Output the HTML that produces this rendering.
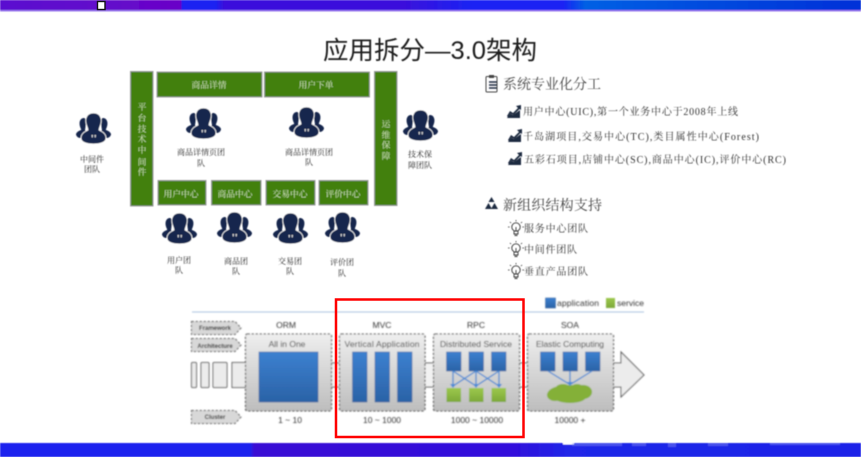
<!DOCTYPE html>
<html><head><meta charset="utf-8">
<style>
html,body{margin:0;padding:0;background:#fff;width:861px;height:457px;overflow:hidden}
svg{display:block}
.sans{font-family:"Liberation Sans","Noto Sans CJK SC",sans-serif}
.serif{font-family:"Liberation Serif","Noto Serif CJK SC",serif}
</style></head><body>
<svg width="861" height="457" viewBox="0 0 861 457" xmlns="http://www.w3.org/2000/svg">
<defs>
<linearGradient id="top" x1="0" x2="1" y1="0" y2="0">
<stop offset="0" stop-color="#5a10d0"/><stop offset=".21" stop-color="#6a04c8"/><stop offset=".2115" stop-color="#1a24f2"/><stop offset=".25" stop-color="#1a24f2"/><stop offset=".26" stop-color="#3a10dc"/><stop offset=".47" stop-color="#3a10dc"/><stop offset=".55" stop-color="#1a24f4"/><stop offset=".655" stop-color="#1a24f4"/><stop offset=".68" stop-color="#0060e4"/><stop offset="1" stop-color="#0030d8"/>
</linearGradient>
<linearGradient id="bot" x1="0" x2="1" y1="0" y2="0">
<stop offset="0" stop-color="#1a24ee"/><stop offset=".29" stop-color="#1a24ee"/><stop offset=".295" stop-color="#3a10d4"/><stop offset=".6" stop-color="#3010dc"/><stop offset=".66" stop-color="#2026e8"/><stop offset="1" stop-color="#1c24e8"/>
</linearGradient>
<linearGradient id="gray" x1="0" x2="0" y1="0" y2="1"><stop offset="0" stop-color="#eeeeee"/><stop offset="1" stop-color="#bdbdbd"/></linearGradient>
<linearGradient id="blue" x1="0" x2="0" y1="0" y2="1"><stop offset="0" stop-color="#3c80d0"/><stop offset="1" stop-color="#2a62a6"/></linearGradient>
<linearGradient id="green" x1="0" x2="0" y1="0" y2="1"><stop offset="0" stop-color="#9cc84c"/><stop offset="1" stop-color="#7ca838"/></linearGradient>
<filter id="b" x="-5%" y="-5%" width="110%" height="110%"><feGaussianBlur stdDeviation="0.55"/></filter>
<filter id="b2" x="-5%" y="-5%" width="110%" height="110%"><feGaussianBlur stdDeviation="0.7"/></filter>
<g id="p">
<path d="M5 16 C2 10 4 5 8 5 C10 5 10 9 10 11 L9 17 L11 19 L6 21 Z M30 16 C33 10 31 5 27 5 C25 5 25 9 25 11 L26 17 L24 19 L29 21 Z" fill="#16284e"/>
<path d="M0 21 C1 18 5 17 8 16 L10 20 L7 25 L4 25 C2 25 0 23 0 21 Z M35 21 C34 18 30 17 27 16 L25 20 L28 25 L31 25 C33 25 35 23 35 21 Z" fill="#16284e"/>
<path d="M17.5 0 C11 0 9 5 10 10 C10.5 13 12 15 12 17 C8 19 5 21 5 25 C5 29 10 31 17.5 31 C25 31 30 29 30 25 C30 21 27 19 23 17 C23 15 24.5 13 25 10 C26 5 24 0 17.5 0 Z" fill="#16284e" stroke="#fff" stroke-width="0.8"/>
<path d="M15.500 22 h1.500 l-.3 2.500 h-.9 Z M18.500 22 h1.500 l-.3 2.500 h-.9 Z" fill="#d8d8d8"/>
</g>
<g id="chart"><path d="M0 11 L3 6 L6 8 L11 3 L9 1 L14 0 L14 5 L12.5 4 L6.5 10 L3 8.5 L1 12 Z" fill="#1e2a40"/><path d="M0 13 L3 8.500 L6 10 L13 5 L13 13 Z" fill="#1e2a40"/></g>
<g id="bulb" fill="none" stroke="#333" stroke-width="0.9"><circle cx="8" cy="7" r="4.2"/><path d="M6 11 L6 14 L10 14 L10 11 M6.5 15.5 L9.5 15.5 M8 7 L8 11"/><path d="M8 0 V1.4 M2 2 L3 3 M14 2 L13 3 M0 7 H1.6 M14.4 7 H16" stroke-width="0.8"/></g>
</defs>

<rect width="861" height="457" fill="#fff"/>
<g filter="url(#b)">
<rect x="0" y="0" width="861" height="10" fill="url(#top)"/>
<rect x="0" y="10" width="861" height="1.5" fill="#9a78ee"/>
<rect x="0" y="443" width="861" height="14" fill="url(#bot)"/>
<rect x="563" y="441.500" width="11" height="3" fill="#fff"/>
<g fill="#8e9af4" opacity=".38">
<rect x="572" y="443" width="50" height="3"/><rect x="632" y="443" width="14" height="3"/><rect x="668" y="443" width="8" height="4"/><rect x="708" y="443" width="20" height="3"/><rect x="770" y="443" width="70" height="2"/>
</g>
</g>
<rect x="97.500" y="1.500" width="7.500" height="8" fill="#fff" stroke="#111" stroke-width="1.400"/>

<g filter="url(#b)">
<text x="430" y="59" text-anchor="middle" class="sans" font-size="25" fill="#1a1a1a" textLength="214" lengthAdjust="spacingAndGlyphs">应用拆分—3.0架构</text>

<g fill="#43800e" stroke="#999" stroke-width="1">
<rect x="130.500" y="71.500" width="22.500" height="134.500"/>
<rect x="157" y="72" width="105" height="25"/>
<rect x="264.500" y="72" width="105" height="25"/>
<rect x="374.500" y="71.500" width="22.500" height="134"/>
<rect x="158" y="180.500" width="48" height="24.500"/>
<rect x="211.500" y="180.500" width="49.500" height="24.500"/>
<rect x="266" y="180.500" width="49" height="24.500"/>
<rect x="319" y="180.500" width="49" height="24.500"/>
</g>
<g class="serif" fill="#cfe2b8" text-anchor="middle" font-size="8.750">
<text x="209" y="88">商品详情</text>
<text x="316" y="88">用户下单</text>
<text x="181" y="197">用户中心</text>
<text x="235" y="197">商品中心</text>
<text x="290" y="197">交易中心</text>
<text x="343" y="197">评价中心</text>
<text x="142" y="110">平</text><text x="142" y="121">台</text><text x="142" y="132">技</text><text x="142" y="142">术</text><text x="142" y="153">中</text><text x="142" y="165">间</text><text x="142" y="175">件</text>
<text x="386" y="127">运</text><text x="386" y="138">维</text><text x="386" y="148">保</text><text x="386" y="159">障</text>
</g>

<use href="#p" x="76" y="113"/>
<use href="#p" x="186" y="108"/>
<use href="#p" x="289" y="107"/>
<use href="#p" x="403" y="110"/>
<use href="#p" x="162" y="213"/>
<use href="#p" x="217" y="212"/>
<use href="#p" x="273" y="213"/>
<use href="#p" x="325" y="212"/>

<g class="serif" fill="#2a2a2a" text-anchor="middle" font-size="8">
<text x="92" y="162">中间件</text><text x="92" y="172">团队</text>
<text x="201" y="155">商品详情页团</text><text x="201" y="166">队</text>
<text x="309" y="155">商品详情页团</text><text x="309" y="165">队</text>
<text x="420" y="157">技术保</text><text x="420" y="168">障团队</text>
<text x="179" y="263">用户团</text><text x="179" y="273">队</text>
<text x="236" y="264">商品团</text><text x="236" y="274">队</text>
<text x="290" y="264">交易团</text><text x="290" y="274">队</text>
<text x="342" y="265">评价团</text><text x="342" y="276">队</text>
</g>

<g fill="none" stroke="#444" stroke-width="1"><rect x="486" y="76.500" width="11" height="15.500" rx="1"/></g>
<rect x="489" y="75" width="5" height="3" fill="#444"/>
<path d="M489 82 H497 M489 85 H497 M489 88 H497" stroke="#1e2a40" stroke-width="1.400"/>
<g class="serif" fill="#444">
<text x="503" y="89" font-size="14" textLength="98">系统专业化分工</text>
<text x="503" y="210" font-size="14" textLength="99">新组织结构支持</text>
</g>
<g class="serif" fill="#333" font-size="10">
<text x="523" y="115" textLength="215" lengthAdjust="spacing">用户中心(UIC),第一个业务中心于2008年上线</text>
<text x="523" y="140" textLength="236" lengthAdjust="spacing">千岛湖项目,交易中心(TC),类目属性中心(Forest)</text>
<text x="524" y="163" textLength="262" lengthAdjust="spacing">五彩石项目,店铺中心(SC),商品中心(IC),评价中心(RC)</text>
<text x="524" y="232" textLength="64">服务中心团队</text>
<text x="524" y="253" textLength="53">中间件团队</text>
<text x="524" y="275" textLength="64">垂直产品团队</text>
</g>
<use href="#chart" x="507" y="105"/>
<use href="#chart" x="508" y="129"/>
<use href="#chart" x="508" y="152"/>
<path d="M491.500 197 l3 5 h-6 Z M488.500 203 l3.500 6 h-7 Z M494.500 203 l3.500 6 h-7 Z" fill="#1e2a40"/>
<use href="#bulb" x="508" y="220"/>
<use href="#bulb" x="508" y="241"/>
<use href="#bulb" x="508" y="263"/>
</g>

<g filter="url(#b2)">
<line x1="192" y1="312" x2="644" y2="312" stroke="#a9c3de" stroke-width="1"/>
<g fill="#ececec" stroke="#555" stroke-width="1">
<rect x="191.500" y="362.500" width="5" height="25" rx="1"/>
<rect x="201" y="362.500" width="8" height="25" rx="1"/>
<rect x="213" y="362.500" width="14" height="25" rx="1"/>
<rect x="232" y="362.500" width="14" height="25"/>
<path d="M612 363 H621 V352 L644 375 L621 397 V387 H612" fill="#ececec"/>
</g>
<g fill="#f2f2f2"><rect x="331" y="363" width="9" height="24"/><rect x="425" y="363" width="9" height="24"/><rect x="519" y="363" width="9" height="24"/></g>
<path d="M331 363 H339 M331 387 H339 M425 363 H433 M425 387 H433 M519 363 H527 M519 387 H527" stroke="#444" stroke-width="1"/>
<g fill="#d8d8d8" stroke="#555" stroke-width="1" stroke-dasharray="2.500 1.500">
<path d="M191.500 321.500 H235 L241 328 L235 334.500 H191.500 Z"/>
<path d="M191.500 338.500 H235 L241 345 L235 351.500 H191.500 Z"/>
<path d="M191.500 410.500 H235 L241 417 L235 423.500 H191.500 Z"/>
</g>
<g fill="url(#gray)" stroke="#444" stroke-width="1.100" stroke-dasharray="2.500 1.500">
<rect x="245.500" y="334" width="86" height="77" rx="2"/>
<rect x="339.500" y="334" width="85.500" height="77" rx="2"/>
<rect x="433.500" y="334" width="86" height="77" rx="2"/>
<rect x="527.500" y="334" width="86" height="77" rx="2"/>
</g>
<g fill="url(#blue)" stroke="#2a5a98" stroke-width=".5">
<rect x="259" y="352" width="59" height="50"/>
<rect x="352.500" y="352" width="14.500" height="50"/>
<rect x="375" y="352" width="14.500" height="50"/>
<rect x="397.500" y="352" width="14.500" height="50"/>
<rect x="446.500" y="352" width="14.500" height="19"/>
<rect x="469" y="352" width="14.500" height="19"/>
<rect x="491.500" y="352" width="14.500" height="19"/>
<rect x="540.500" y="352" width="14.500" height="19"/>
<rect x="563" y="352" width="14.500" height="19"/>
<rect x="585.500" y="352" width="14.500" height="19"/>
<rect x="545.500" y="298" width="10" height="10"/>
</g>
<g fill="url(#green)">
<rect x="446.500" y="388" width="14.500" height="14"/>
<rect x="469" y="388" width="14.500" height="14"/>
<rect x="491.500" y="388" width="14.500" height="14"/>
<rect x="606" y="298" width="9" height="10"/>
</g>
<g fill="#84b038">
<ellipse cx="569" cy="393" rx="21" ry="8"/><ellipse cx="555" cy="395" rx="8" ry="6"/><ellipse cx="583" cy="392" rx="9" ry="7"/><ellipse cx="570" cy="397" rx="16" ry="6"/><ellipse cx="563" cy="388" rx="7" ry="4"/><ellipse cx="577" cy="388" rx="6" ry="4"/>
</g>
<g stroke="#4a8ad4" stroke-width="1.300" fill="#4a8ad4">
<path d="M453 371 L453 386 M476 371 L476 386 M499 371 L499 386 M453 371 L476 386 M476 371 L453 386 M476 371 L499 386 M499 371 L476 386" fill="none"/>
<path d="M548 371 L569 384 M570 371 L570 384 M592 371 L571 384" fill="none"/>
<path d="M450 384 h6 l-3 4 Z M473 384 h6 l-3 4 Z M496 384 h6 l-3 4 Z M567 382 h6 l-3 4 Z" stroke="none"/>
</g>
<g class="sans" fill="#333" text-anchor="middle">
<g font-size="8.500">
<text x="286" y="328">ORM</text><text x="382" y="328">MVC</text><text x="476" y="328">RPC</text><text x="570" y="328">SOA</text>
<text x="287" y="347">All in One</text><text x="382" y="347" textLength="75">Vertical Application</text><text x="476" y="347" textLength="72">Distributed Service</text><text x="570" y="347" textLength="68">Elastic Computing</text>
<text x="290" y="423">1 ~ 10</text><text x="382" y="423">10 ~ 1000</text><text x="477" y="423">1000 ~ 10000</text><text x="570" y="423">10000 +</text>
</g>
<g font-size="6" font-weight="bold" fill="#222">
<text x="215" y="330">Framework</text><text x="215" y="348">Architecture</text><text x="215" y="419">Cluster</text>
</g>
</g>
<text x="557" y="306" class="sans" font-size="8.500" fill="#333" textLength="42">application</text>
<text x="617" y="306" class="sans" font-size="8.500" fill="#333" textLength="27">service</text>
</g>
<rect x="336" y="299.500" width="187.500" height="137.500" fill="none" stroke="#f00" stroke-width="2.500"/>
</svg>
</body></html>
